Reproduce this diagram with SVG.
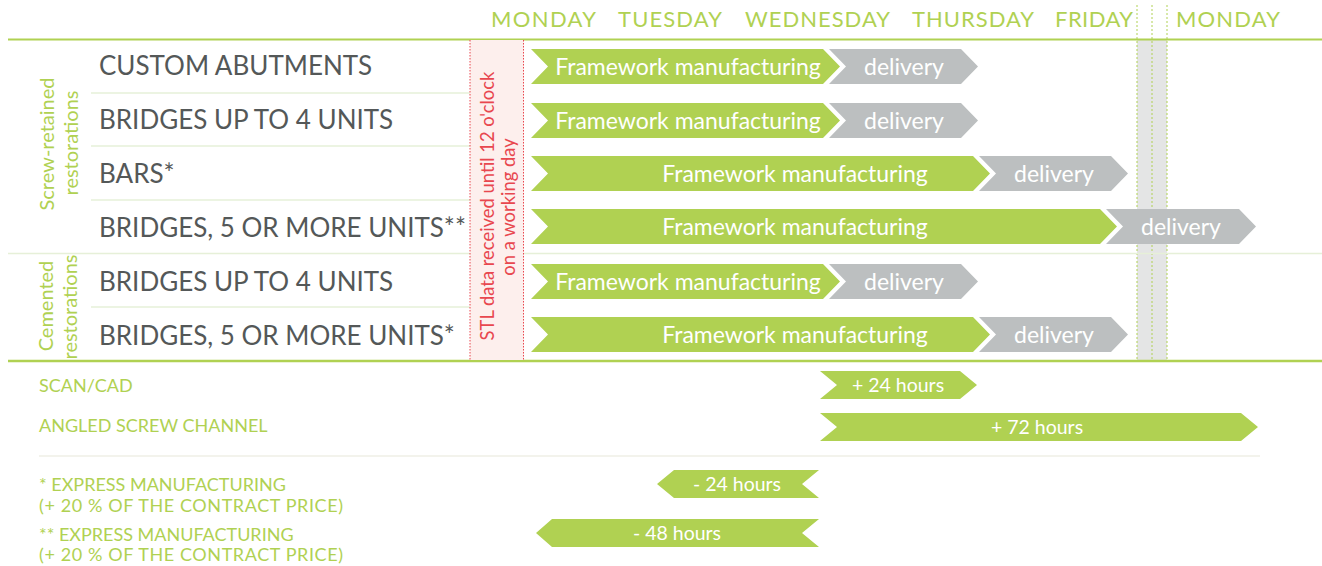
<svg xmlns="http://www.w3.org/2000/svg" width="1322" height="566" viewBox="0 0 1322 566">
<style>
text{font-family:Lato,"Open Sans","Liberation Sans",sans-serif}
.day{fill:#b0d152;font-size:22px}
.lbl{fill:#545858;font-size:26px}
.side{fill:#b0d152;font-size:20px}
.stl{fill:#e8474f;font-size:18.4px}
.fw{fill:#fff;font-size:23px;text-anchor:middle}
.hr{fill:#fff;font-size:19.5px;text-anchor:middle}
.note{fill:#b0d152;font-size:18px}
.g{fill:#b0d152}
.d{fill:#bcbfc0}
.sep{stroke:#e6f0d8;stroke-width:1.5}
.wk{stroke:#b0d152;stroke-width:1;stroke-dasharray:2 2}
</style>
<rect width="1322" height="566" fill="#fff"/>
<g id="weekend">
<rect x="1137" y="40" width="30" height="321" fill="#e4e5e5"/>
<line class="wk" x1="1137" y1="5" x2="1137" y2="361"/>
<line class="wk" x1="1152" y1="5" x2="1152" y2="361"/>
<line class="wk" x1="1167" y1="5" x2="1167" y2="361"/>
</g>
<g id="header">
<text class="day" x="491" y="27" textLength="105">MONDAY</text>
<text class="day" x="618" y="27" textLength="104">TUESDAY</text>
<text class="day" x="745" y="27" textLength="145">WEDNESDAY</text>
<text class="day" x="912" y="27" textLength="122">THURSDAY</text>
<text class="day" x="1055" y="27" textLength="78">FRIDAY</text>
<text class="day" x="1176" y="27" textLength="104">MONDAY</text>
</g>
<g id="grid">
<line x1="8" y1="39.5" x2="1322" y2="39.5" stroke="#b0d152" stroke-width="2"/>
<line x1="8" y1="361" x2="1322" y2="361" stroke="#b0d152" stroke-width="2.5"/>
<line class="sep" x1="91" y1="93" x2="470" y2="93"/>
<line class="sep" x1="91" y1="146" x2="470" y2="146"/>
<line class="sep" x1="91" y1="200" x2="470" y2="200"/>
<line class="sep" x1="8" y1="253.5" x2="1322" y2="253.5"/>
<line class="sep" x1="91" y1="307" x2="470" y2="307"/>
<line x1="39" y1="456" x2="1260" y2="456" stroke="#efefe6" stroke-width="1.5"/>
</g>
<g id="stl-column">
<rect x="470" y="40" width="54" height="320" fill="#fdefed"/>
<line x1="470" y1="40" x2="470" y2="360" stroke="#e8474f" stroke-width="1" stroke-dasharray="1.5 1.5"/>
<line x1="523.5" y1="40" x2="523.5" y2="360" stroke="#e8474f" stroke-width="1" stroke-dasharray="1.5 1.5"/>
<text class="stl" transform="translate(494,206) rotate(-90)" text-anchor="middle">STL data received until 12 o'clock</text>
<text class="stl" transform="translate(515,207) rotate(-90)" text-anchor="middle">on a working day</text>
</g>
<g id="group-screw">
<text class="side" transform="translate(54,144) rotate(-90)" text-anchor="middle">Screw-retained</text>
<text class="side" transform="translate(78,143) rotate(-90)" text-anchor="middle">restorations</text>
</g>
<g id="group-cemented">
<text class="side" transform="translate(53,306) rotate(-90)" text-anchor="middle">Cemented</text>
<text class="side" transform="translate(77,307) rotate(-90)" text-anchor="middle">restorations</text>
</g>
<g id="row1">
<text class="lbl" x="99" y="75">CUSTOM ABUTMENTS</text>
<path class="g" d="M531,49 L823,49 L840,66.5 L823,84 L531,84 L548,66.5 Z"/>
<path class="d" d="M829,49 L961,49 L978,66.5 L961,84 L829,84 L846,66.5 Z"/>
<text class="fw" x="688" y="75">Framework manufacturing</text>
<text class="fw" x="904" y="75">delivery</text>
</g>
<g id="row2">
<text class="lbl" x="99" y="129">BRIDGES UP TO 4 UNITS</text>
<path class="g" d="M531,103 L823,103 L840,120.5 L823,138 L531,138 L548,120.5 Z"/>
<path class="d" d="M829,103 L961,103 L978,120.5 L961,138 L829,138 L846,120.5 Z"/>
<text class="fw" x="688" y="129">Framework manufacturing</text>
<text class="fw" x="904" y="129">delivery</text>
</g>
<g id="row3">
<text class="lbl" x="99" y="183">BARS*</text>
<path class="g" d="M531,156 L973,156 L990,173.5 L973,191 L531,191 L548,173.5 Z"/>
<path class="d" d="M979,156 L1111,156 L1128,173.5 L1111,191 L979,191 L996,173.5 Z"/>
<text class="fw" x="795" y="182">Framework manufacturing</text>
<text class="fw" x="1054" y="182">delivery</text>
</g>
<g id="row4">
<text class="lbl" x="99" y="237">BRIDGES, 5 OR MORE UNITS**</text>
<path class="g" d="M531,209 L1100,209 L1117,226.5 L1100,244 L531,244 L548,226.5 Z"/>
<path class="d" d="M1106,209 L1239,209 L1256,226.5 L1239,244 L1106,244 L1123,226.5 Z"/>
<text class="fw" x="795" y="235">Framework manufacturing</text>
<text class="fw" x="1181" y="235">delivery</text>
</g>
<g id="row5">
<text class="lbl" x="99" y="291">BRIDGES UP TO 4 UNITS</text>
<path class="g" d="M531,264 L823,264 L840,281.5 L823,299 L531,299 L548,281.5 Z"/>
<path class="d" d="M829,264 L961,264 L978,281.5 L961,299 L829,299 L846,281.5 Z"/>
<text class="fw" x="688" y="290">Framework manufacturing</text>
<text class="fw" x="904" y="290">delivery</text>
</g>
<g id="row6">
<text class="lbl" x="99" y="345">BRIDGES, 5 OR MORE UNITS*</text>
<path class="g" d="M531,317 L973,317 L990,334.5 L973,352 L531,352 L548,334.5 Z"/>
<path class="d" d="M979,317 L1111,317 L1128,334.5 L1111,352 L979,352 L996,334.5 Z"/>
<text class="fw" x="795" y="343">Framework manufacturing</text>
<text class="fw" x="1054" y="343">delivery</text>
</g>
<g id="scan-cad">
<text class="note" x="39" y="392">SCAN/CAD</text>
<path class="g" d="M820,371 L960,371 L977,385 L960,399 L820,399 L837,385 Z"/>
<text class="hr" x="898" y="392">+ 24 hours</text>
</g>
<g id="angled">
<text class="note" x="39" y="432">ANGLED SCREW CHANNEL</text>
<path class="g" d="M820,413 L1241,413 L1258,427 L1241,441 L820,441 L837,427 Z"/>
<text class="hr" x="1037" y="434">+ 72 hours</text>
</g>
<g id="express1">
<text class="note" x="39" y="491">* EXPRESS MANUFACTURING</text>
<text class="note" x="39" y="512" textLength="304">(+ 20 % OF THE CONTRACT PRICE)</text>
<path class="g" d="M657,484 L674,470 L819,470 L802,484 L819,498 L674,498 Z"/>
<text class="hr" x="737" y="491">- 24 hours</text>
</g>
<g id="express2">
<text class="note" x="39" y="541">** EXPRESS MANUFACTURING</text>
<text class="note" x="39" y="561" textLength="304">(+ 20 % OF THE CONTRACT PRICE)</text>
<path class="g" d="M536,533 L552,519 L819,519 L802,533 L819,547 L552,547 Z"/>
<text class="hr" x="677" y="540">- 48 hours</text>
</g>
</svg>
